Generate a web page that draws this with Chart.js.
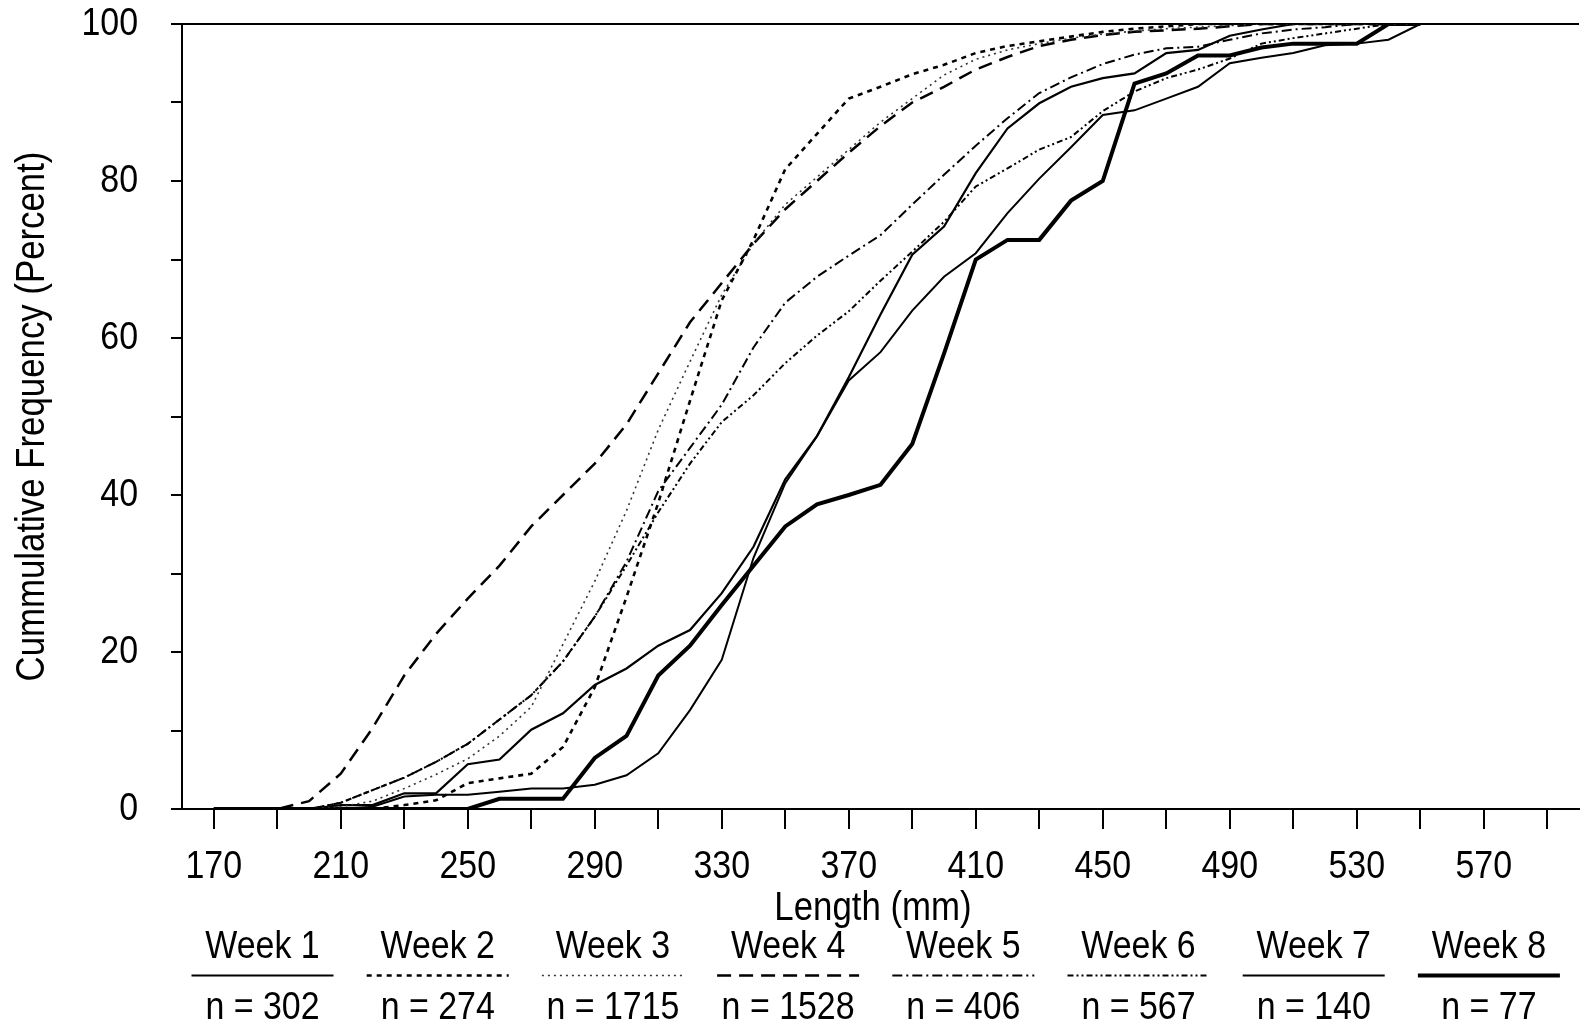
<!DOCTYPE html>
<html>
<head>
<meta charset="utf-8">
<script src="https://cdn.jsdelivr.net/npm/chart.js@4.4.1/dist/chart.umd.min.js"></script>
<style>
  html, body { margin: 0; padding: 0; background: #fff; }
</style>
</head>
<body>
<canvas id="lenChart" width="1580" height="1027"></canvas>
<script>
// length classes in mm (10 mm steps)
const lengthsMM = [170,180,190,200,210,220,230,240,250,260,270,280,290,300,310,320,330,340,350,360,
                   370,380,390,400,410,420,430,440,450,460,470,480,490,500,510,520,530,540,550];

// cumulative frequency (%) per week
const week1 = [0,0,0,0,0,0.3,1.6,1.8,1.8,2.2,2.6,2.6,3.1,4.3,7.1,12.6,19,32,41.5,47.5,54.6,58.2,63.5,67.8,70.8,75.9,80.3,84.3,88.4,89,90.5,92,95,95.7,96.3,97.3,97.5,98,100];
const week2 = [0,0,0,0,0,0,0.5,1.1,3.3,3.9,4.5,7.9,15.5,27,39,52,64.8,72.5,81.5,86,90.5,92,93.6,94.8,96.3,97.2,97.8,98.4,99,99.4,99.7,100,100,100,100,100,100,100,100];
const week3 = [0,0,0,0,0.3,1,2.6,4.4,6.4,9.3,13,21,29,38,48.3,57,65.5,72,77,80.5,84,87.5,90.5,93.5,95.5,96.7,97.5,98.2,98.7,99.1,99.4,99.6,99.8,100,100,100,100,100,100];
const week4 = [0,0,0,1,4.5,10.3,17,22.3,26.8,31,36,40,44,49,55.5,62,67,72,76.4,80,83.6,87,90,92,94.2,95.8,97.2,98,98.6,99,99.2,99.4,99.7,100,100,100,100,100,100];
const week5 = [0,0,0,0,0.8,2.4,4,6,8.3,11.4,14.5,18.8,24.5,31.5,40.5,46,51.5,58.8,64.5,67.8,70.5,73.1,77,80.8,84.5,88,91.2,93.2,94.9,96.1,96.9,97.1,98,98.8,99.3,99.6,100,100,100];
const week6 = [0,0,0,0,0.8,2.4,4,6,8.3,11.4,14.5,18.8,24.5,31,37.8,44,49.3,52.7,56.8,60.3,63.4,67.3,71,74.8,79.3,81.6,84,85.6,88.9,91.4,93.1,94.2,95.6,97.5,98.2,98.8,99.4,100,100];
const week7 = [0,0,0,0,0.5,0.5,2,2,5.7,6.3,10.1,12.2,15.8,17.9,20.8,22.8,27.5,33.4,42,47.5,55,63,70.6,74.2,81,86.7,89.9,92,93.1,93.7,96.3,96.7,98.5,99.3,100,100,100,100,100];
const week8 = [0,0,0,0,0,0,0,0,0,1.3,1.3,1.3,6.5,9.3,17,20.8,26,31,36,38.8,40,41.3,46.5,58,70,72.5,72.5,77.5,80,92.4,93.7,96,96,97,97.5,97.5,97.5,100,100];

const weekLabels = ['Week 1','Week 2','Week 3','Week 4','Week 5','Week 6','Week 7','Week 8'];
const sampleSizes = [302, 274, 1715, 1528, 406, 567, 140, 77];
const xTickValues = [170,190,210,230,250,270,290,310,330,350,370,390,410,430,450,470,490,510,530,550,570,590];
const xLabelValues = [170,210,250,290,330,370,410,450,490,530,570];
const yLabelValues = [0,20,40,60,80,100];

const FONT = '"Liberation Sans", Arial, sans-serif';
const SQUEEZE = 0.87;   // narrow the type a little

// line style for each week
const styles = [
  { w: 2,   dash: [] },
  { w: 2.6, dash: [5, 5] },
  { w: 1.6, dash: [2, 4], color: '#333' },
  { w: 2.5, dash: [14, 8] },
  { w: 2,   dash: [10, 4, 2, 4] },
  { w: 2,   dash: [6, 3, 2, 3, 2, 3] },
  { w: 2.2, dash: [] },
  { w: 4,   dash: [] }
];
const series = [week1, week2, week3, week4, week5, week6, week7, week8];

const datasets = series.map((vals, i) => ({
  label: weekLabels[i],
  data: lengthsMM.map((x, j) => ({ x: x, y: vals[j] })),
  borderColor: styles[i].color || '#000',
  borderWidth: styles[i].w,
  borderDash: styles[i].dash,
  pointRadius: 0,
  tension: 0,
  fill: false
}));

function squeezeText(ctx, str, x, y, align, rot) {
  ctx.save();
  ctx.translate(x, y);
  if (rot) ctx.rotate(rot);
  ctx.scale(SQUEEZE, 1);
  ctx.textAlign = align;
  ctx.textBaseline = 'middle';
  ctx.fillText(str, 0, 0);
  ctx.restore();
}

// axis labels, titles and the week key under the axis
const textLayer = {
  id: 'textLayer',
  afterDraw(chart) {
    const ctx = chart.ctx;
    const area = chart.chartArea;
    const sx = chart.scales.x, sy = chart.scales.y;
    ctx.save();
    ctx.fillStyle = '#000';
    ctx.font = '39px ' + FONT;

    yLabelValues.forEach(v => squeezeText(ctx, String(v), area.left - 44, sy.getPixelForValue(v), 'right'));
    xLabelValues.forEach(v => squeezeText(ctx, String(v), sx.getPixelForValue(v), area.bottom + 58, 'center'));

    ctx.font = '40px ' + FONT;
    squeezeText(ctx, 'Length (mm)', 873, area.bottom + 100, 'center');
    squeezeText(ctx, 'Cummulative Frequency (Percent)', 33, (area.top + area.bottom) / 2, 'center', -Math.PI / 2);

    ctx.font = '39px ' + FONT;
    chart.data.datasets.forEach((ds, i) => {
      const cx = 262.5 + i * 175.2;
      squeezeText(ctx, ds.label, cx, area.bottom + 138, 'center');
      ctx.beginPath();
      ctx.setLineDash(ds.borderDash);
      ctx.lineWidth = ds.borderWidth;
      ctx.strokeStyle = ds.borderColor;
      ctx.moveTo(cx - 71, area.bottom + 166.5);
      ctx.lineTo(cx + 71, area.bottom + 166.5);
      ctx.stroke();
      ctx.setLineDash([]);
      squeezeText(ctx, 'n = ' + sampleSizes[i], cx, area.bottom + 199, 'center');
    });
    ctx.restore();
  }
};

new Chart(document.getElementById('lenChart'), {
  type: 'line',
  data: { datasets: datasets },
  plugins: [textLayer],
  options: {
    responsive: false,
    animation: false,
    devicePixelRatio: 1,
    layout: { padding: { top: 24, right: 1, left: 0, bottom: 96 } },
    plugins: { legend: { display: false }, tooltip: { enabled: false } },
    scales: {
      x: {
        type: 'linear',
        min: 160,
        max: 600,
        afterBuildTicks: axis => { axis.ticks = xTickValues.map(v => ({ value: v })); },
        afterFit: axis => { axis.height = 122; axis.paddingLeft = 0; axis.paddingRight = 0; },
        ticks: { display: false },
        grid: { drawOnChartArea: false, tickLength: 20, tickColor: '#000', lineWidth: 2 },
        border: { display: true, color: '#000', width: 2 }
      },
      y: {
        min: 0,
        max: 100,
        afterFit: axis => { axis.width = 182; axis.paddingTop = 0; axis.paddingBottom = 0; },
        ticks: { display: false, stepSize: 10 },
        grid: {
          color: c => (c.tick && c.tick.value === 100 ? '#000' : 'rgba(0,0,0,0)'),
          tickColor: '#000',
          tickLength: 11,
          lineWidth: 2
        },
        border: { display: true, color: '#000', width: 2 }
      }
    }
  }
});
</script>
</body>
</html>
